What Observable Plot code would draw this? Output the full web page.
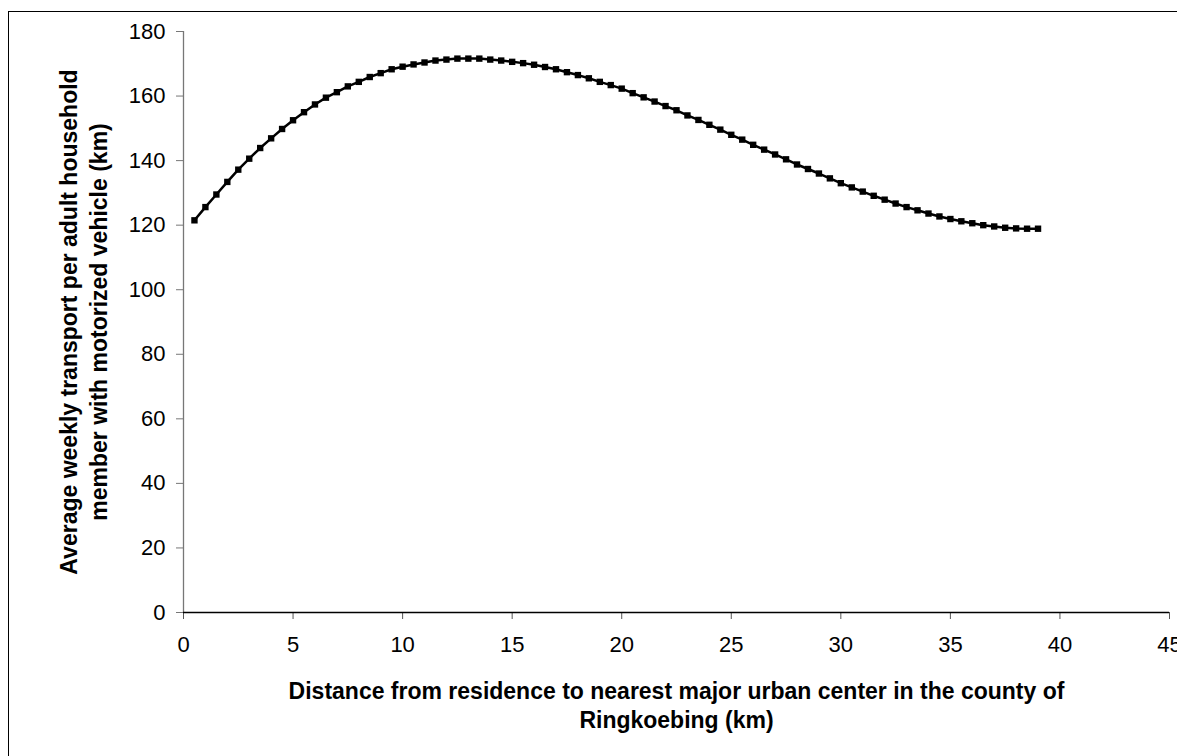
<!DOCTYPE html>
<html>
<head>
<meta charset="utf-8">
<script src="https://cdn.jsdelivr.net/npm/d3@7"></script>
<script src="https://cdn.jsdelivr.net/npm/@observablehq/plot@0.6"></script>
<style>
  html, body { margin: 0; padding: 0; background: #fff; overflow: hidden; }
  #wrap { position: relative; width: 1177px; height: 756px; }
  #frame { position: absolute; left: 8px; top: 11px; right: -10px; bottom: -10px;
           border-left: 1px solid #000; border-top: 1px solid #000; pointer-events: none; }
  #chart { position: absolute; left: 0; top: 0; }
</style>
</head>
<body>
<div id="wrap"><div id="chart"></div><div id="frame"></div></div>
<script>
// Distance from residence to nearest major urban center (km)
const distance = [
  0.5, 1, 1.5, 2, 2.5, 3, 3.5, 4, 4.5, 5, 5.5, 6, 6.5, 7, 7.5, 8, 8.5, 9, 9.5, 10,
  10.5, 11, 11.5, 12, 12.5, 13, 13.5, 14, 14.5, 15, 15.5, 16, 16.5, 17, 17.5, 18, 18.5, 19, 19.5, 20,
  20.5, 21, 21.5, 22, 22.5, 23, 23.5, 24, 24.5, 25, 25.5, 26, 26.5, 27, 27.5, 28, 28.5, 29, 29.5, 30,
  30.5, 31, 31.5, 32, 32.5, 33, 33.5, 34, 34.5, 35, 35.5, 36, 36.5, 37, 37.5, 38, 38.5, 39
];
// Average weekly transport per adult household member with motorized vehicle (km)
const transport = [
  121.5, 125.6, 129.5, 133.4, 137.2, 140.6, 143.9, 146.9, 149.8, 152.5,
  155.0, 157.4, 159.5, 161.2, 163.0, 164.4, 165.9, 167.1, 168.3, 169.1,
  169.8, 170.4, 171.0, 171.3, 171.6, 171.6, 171.6, 171.3, 171.0, 170.6,
  170.2, 169.7, 169.0, 168.3, 167.4, 166.5, 165.5, 164.4, 163.4, 162.3,
  160.9, 159.6, 158.3, 156.9, 155.6, 154.0, 152.6, 151.1, 149.6, 148.0,
  146.5, 144.9, 143.4, 141.9, 140.4, 138.8, 137.4, 136.0, 134.5, 133.0,
  131.7, 130.4, 129.1, 127.9, 126.7, 125.6, 124.6, 123.6, 122.7, 121.9,
  121.2, 120.6, 120.0, 119.6, 119.2, 119.0, 118.9, 118.9
];
const xTicks = [0, 5, 10, 15, 20, 25, 30, 35, 40, 45];
const yTicks = [0, 20, 40, 60, 80, 100, 120, 140, 160, 180];
const xTitle = "Distance from residence to nearest major urban center in the county of\nRingkoebing (km)";
const yTitle = "Average weekly transport per adult household\nmember with motorized vehicle (km)";

const data = distance.map((d, i) => ({x: d, y: transport[i]}));

const chart = Plot.plot({
  width: 1177,
  height: 756,
  marginLeft: 183,
  marginRight: 8,
  marginTop: 31,
  marginBottom: 144,
  style: {fontFamily: "'Liberation Sans', Arial, sans-serif", fontSize: "22px", color: "#000", background: "transparent", overflow: "visible"},
  x: {domain: [0, 45]},
  y: {domain: [0, 180]},
  marks: [
    Plot.axisX({ticks: xTicks, tickSize: 7, tickPadding: 17, label: null, stroke: "#555", fill: "#000", fontSize: 22}),
    Plot.axisY({ticks: yTicks, tickSize: 7, tickPadding: 11, label: null, stroke: "#777", fill: "#000", fontSize: 22}),
    Plot.ruleX([0], {stroke: "#777", strokeWidth: 1.3}),
    Plot.ruleY([0], {stroke: "#000", strokeWidth: 1.3}),
    Plot.line(data, {x: "x", y: "y", stroke: "#000", strokeWidth: 2.5}),
    Plot.dot(data, {x: "x", y: "y", symbol: "square", r: 3.6, fill: "#000", stroke: "none"}),
    Plot.text([xTitle], {frameAnchor: "bottom", lineAnchor: "middle", dy: 92, lineHeight: 1.27,
      fontWeight: "bold", fontSize: 23, fill: "#000"}),
    Plot.text([yTitle], {frameAnchor: "left", textAnchor: "middle", lineAnchor: "middle", rotate: -90, dx: -101, lineHeight: 1.3,
      fontWeight: "bold", fontSize: 23, fill: "#000"})
  ]
});
document.getElementById("chart").appendChild(chart);
</script>
</body>
</html>
